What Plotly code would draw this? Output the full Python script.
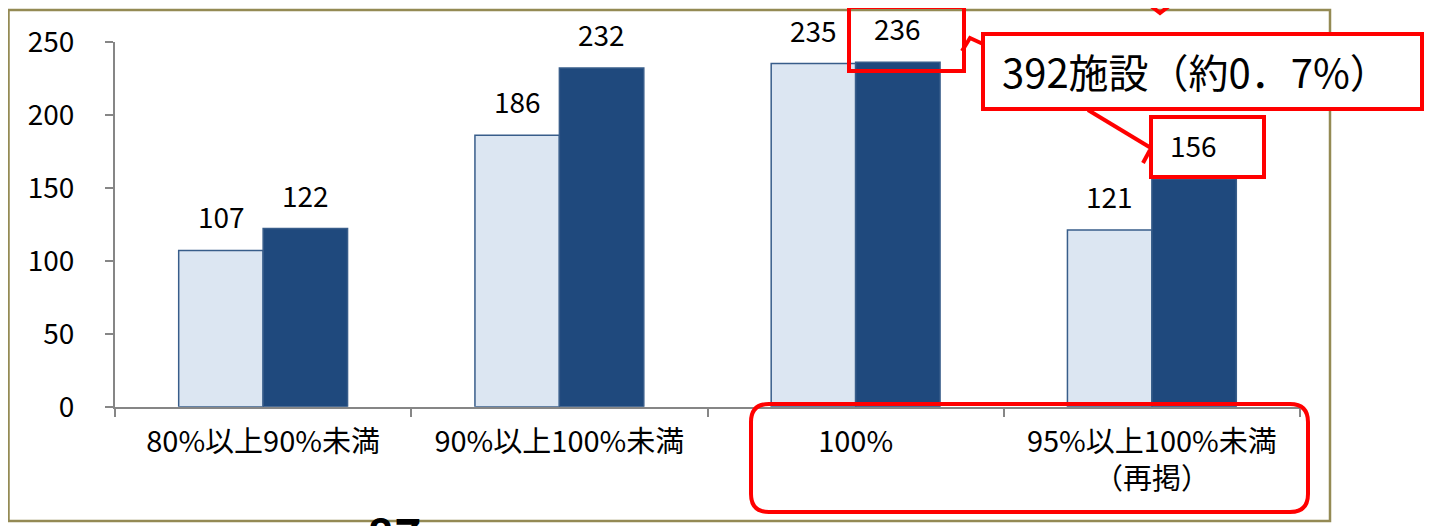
import plotly.graph_objects as go

W, H = 1438, 526
OFF = 8  # page body margin offset compensation

categories = ["80%以上90%未満", "90%以上100%未満", "100%", "95%以上100%未満<br>（再掲）"]
series_light = [107, 186, 235, 121]
series_dark = [122, 232, 236, 156]
y_ticks = [0, 50, 100, 150, 200, 250]

FONT = "Noto Sans CJK JP"
LIGHT = "#dce6f2"
DARK = "#1f497d"
EDGE = "#385d8a"
AXIS = "#868686"
RED = "#ff0000"
OLIVE = "#948a54"


def px(x):
    return (x - OFF) / W


def py(y):
    return 1 - (y - OFF) / H


fig = go.Figure()
fig.add_trace(go.Bar(x=categories, y=series_light, marker=dict(color=LIGHT, line=dict(color=EDGE, width=1.5)),
                     hoverinfo="skip"))
fig.add_trace(go.Bar(x=categories, y=series_dark, marker=dict(color=DARK, line=dict(color=EDGE, width=1.5)),
                     hoverinfo="skip"))

annotations = []
for cat, v in zip(categories, series_light):
    annotations.append(dict(x=cat, y=v, xref="x", yref="y", text=str(v), showarrow=False,
                            xshift=-42, yshift=34, yanchor="middle",
                            font=dict(family=FONT, size=28, color="#000000")))
for cat, v in zip(categories, series_dark):
    annotations.append(dict(x=cat, y=v, xref="x", yref="y", text=str(v), showarrow=False,
                            xshift=42, yshift=34, yanchor="middle",
                            font=dict(family=FONT, size=28, color="#000000")))

# callout text
annotations.append(dict(x=px(1000), y=py(71), xref="paper", yref="paper", text="392施設（約0．7%）",
                        showarrow=False, xanchor="left", yanchor="middle",
                        font=dict(family=FONT, size=40, color="#000000")))
# cut-off slide page number
annotations.append(dict(x=px(394), y=py(497), xref="paper", yref="paper", text="<b>87</b>",
                        showarrow=False, xanchor="center", yanchor="top",
                        font=dict(family=FONT, size=46, color="#000000")))

shapes = []
# chart frame
shapes.append(dict(type="rect", xref="paper", yref="paper", x0=px(8.5), x1=px(1330), y0=py(521), y1=py(10),
                   line=dict(color=OLIVE, width=2.5), layer="below"))
# box around 236
shapes.append(dict(type="rect", xref="paper", yref="paper", x0=px(849), x1=px(964), y0=py(71), y1=py(7),
                   line=dict(color=RED, width=4)))
# big callout box
shapes.append(dict(type="rect", xref="paper", yref="paper", x0=px(983), x1=px(1422), y0=py(109), y1=py(34),
                   line=dict(color=RED, width=4), fillcolor="#ffffff"))
# box around 156
shapes.append(dict(type="rect", xref="paper", yref="paper", x0=px(1151), x1=px(1264), y0=py(177), y1=py(117),
                   line=dict(color=RED, width=4), fillcolor="#ffffff"))


def path(points):
    return "M " + " L ".join(f"{px(x):.5f},{py(y):.5f}" for x, y in points)


# pointers
shapes.append(dict(type="path", xref="paper", yref="paper", path=path([(983, 44), (970, 38), (962, 51)]),
                   line=dict(color=RED, width=4)))
shapes.append(dict(type="path", xref="paper", yref="paper", path=path([(1088, 110), (1151, 148)]),
                   line=dict(color=RED, width=4)))
shapes.append(dict(type="path", xref="paper", yref="paper", path=path([(1150, 150), (1143, 163)]),
                   line=dict(color=RED, width=4)))
shapes.append(dict(type="path", xref="paper", yref="paper", path=path([(1138, -4), (1160, 13), (1182, -4)]),
                   line=dict(color=RED, width=4)))

# rounded rectangle around last two categories
x0, x1, y0, y1, r = 751, 1308, 404, 512, 18
rr = (f"M {px(x0 + r)},{py(y0)} L {px(x1 - r)},{py(y0)} "
      f"Q {px(x1)},{py(y0)} {px(x1)},{py(y0 + r)} L {px(x1)},{py(y1 - r)} "
      f"Q {px(x1)},{py(y1)} {px(x1 - r)},{py(y1)} L {px(x0 + r)},{py(y1)} "
      f"Q {px(x0)},{py(y1)} {px(x0)},{py(y1 - r)} L {px(x0)},{py(y0 + r)} "
      f"Q {px(x0)},{py(y0)} {px(x0 + r)},{py(y0)} Z")
shapes.append(dict(type="path", xref="paper", yref="paper", path=rr, line=dict(color=RED, width=4)))

fig.update_layout(
    width=W, height=H,
    margin=dict(l=0, r=0, t=0, b=0, autoexpand=False),
    paper_bgcolor="#ffffff", plot_bgcolor="#ffffff",
    barmode="group", bargap=0.43, bargroupgap=0,
    showlegend=False,
    font=dict(family=FONT, color="#000000"),
    xaxis=dict(domain=[px(115), px(1300)], showline=True, linecolor=AXIS, linewidth=2,
               ticks="outside", tickson="boundaries", ticklen=8, tickcolor=AXIS, tickwidth=1.5,
               tickfont=dict(family=FONT, size=29, color="#000000"), showgrid=False,
               ticklabelstandoff=8, automargin=False),
    yaxis=dict(domain=[py(406.7), py(41.7)], range=[0, 250], tickvals=y_ticks, showline=True,
               linecolor=AXIS, linewidth=2, ticks="outside", ticklen=8, tickcolor=AXIS, tickwidth=1.5,
               tickfont=dict(family=FONT, size=28, color="#000000"), showgrid=False, zeroline=False,
               ticklabelstandoff=25, automargin=False),
    annotations=annotations,
    shapes=shapes,
)

fig.write_html("out.html")
